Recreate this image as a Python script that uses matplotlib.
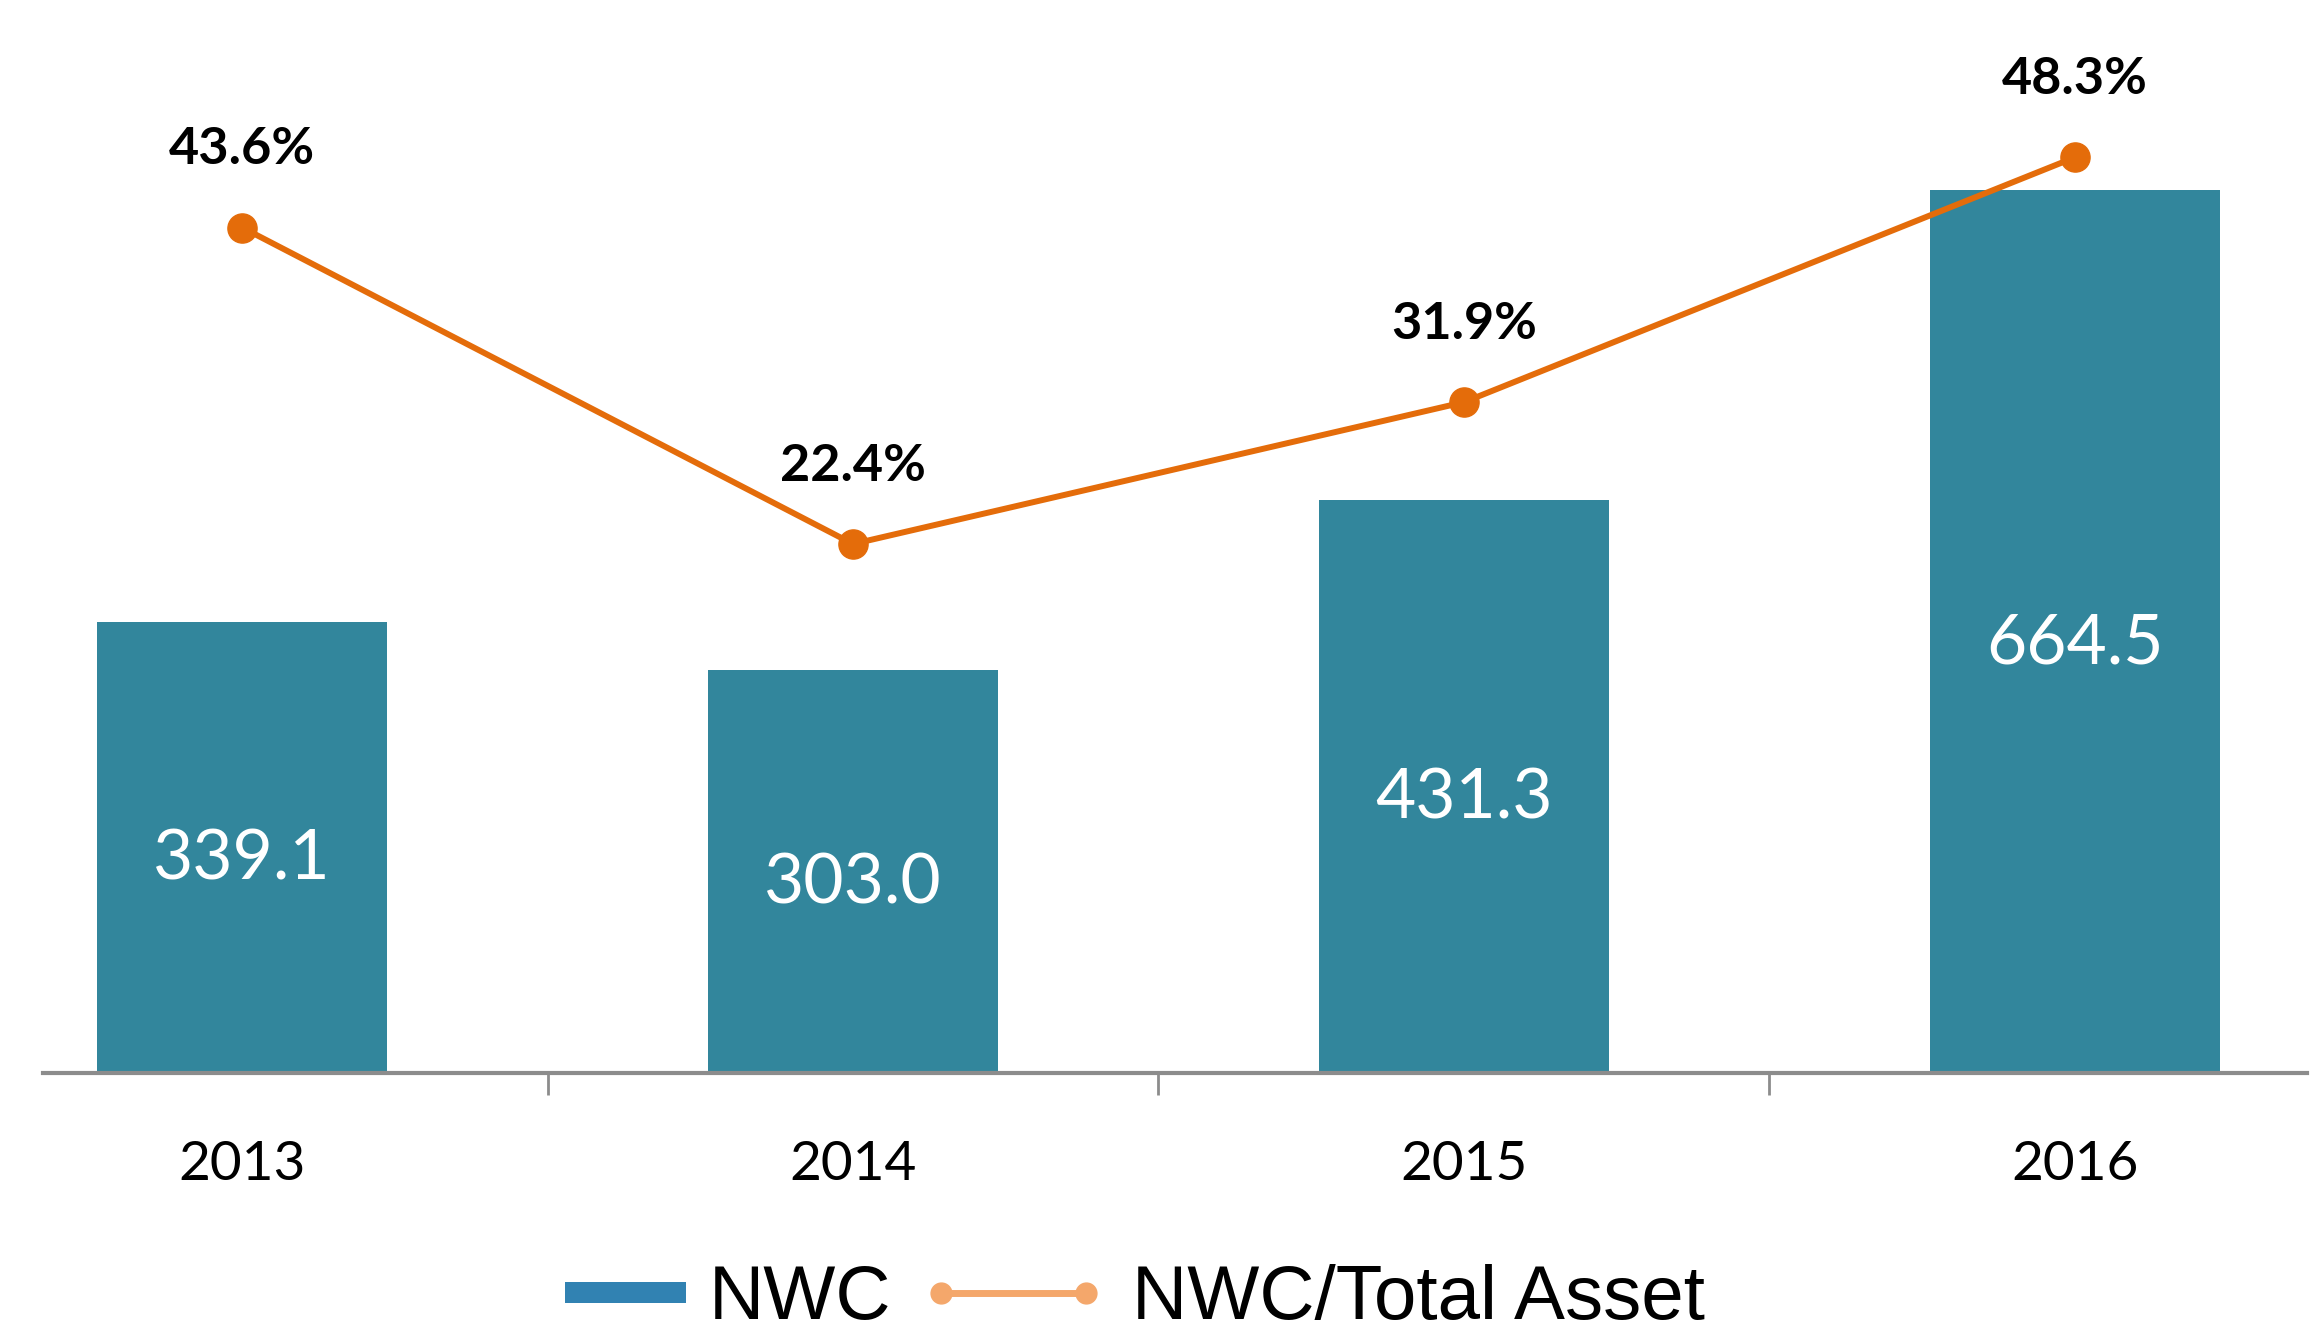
import numpy as np
import matplotlib.pyplot as plt
from matplotlib.patches import Patch, Rectangle
from matplotlib.lines import Line2D
from matplotlib.legend_handler import HandlerPatch

years = ["2013", "2014", "2015", "2016"]
nwc = [339.1, 303.0, 431.3, 664.5]
nwc_ratio = [43.6, 22.4, 31.9, 48.3]

barColor = "#32869C"
lineColor = "#E46C0A"
axisColor = "#8C8C8C"


def smallPatch(legend, orig_handle, xdescent, ydescent, width, height, fontsize):
    # legend box narrower and flatter than the line handle
    w, h = 87, 15
    return Rectangle((-xdescent + width - w, -ydescent + height / 2 - h / 2), w, h)


fig = plt.figure(figsize=(23.15, 13.4), dpi=100)
ax = fig.add_axes([0.0186, 0.1993, 0.9779, 0.7857])
x = np.arange(len(years))

ax.bar(x, nwc, width=0.475, color=barColor, zorder=2)
for xi, v in zip(x, nwc):
    ax.annotate("%.1f" % v, (xi, v / 2), xytext=(0, -9), textcoords="offset points",
                ha="center", va="center", color="white", fontsize=50, family="Lato")

ax.set_xlim(-0.326, 3.38)
ax.set_ylim(0, 792)
ax.set_yticks([])
for s in ["top", "right", "left"]:
    ax.spines[s].set_visible(False)
ax.spines["bottom"].set_color(axisColor)
ax.spines["bottom"].set_linewidth(3)
ax.set_xticks([0.5, 1.5, 2.5])
ax.set_xticklabels([])
ax.tick_params(axis="x", which="major", length=16, width=2, color=axisColor, direction="out")
ax.set_xticks(x, minor=True)
ax.set_xticklabels(years, minor=True, fontsize=39.5, family="Lato")
ax.tick_params(axis="x", which="minor", length=0, pad=48)

ax2 = ax.twinx()
ax2.set_ylim(-13.04, 57.5)
ax2.plot(x, nwc_ratio, color=lineColor, linewidth=4.3, marker="o", markersize=21, zorder=3)
for xi, v in zip(x, nwc_ratio):
    ax2.annotate("%.1f%%" % v, (xi, v), xytext=(0, 56), textcoords="offset points",
                 ha="center", va="center", fontsize=37.5, fontweight="bold", family="Lato")
ax2.axis("off")

handles = [Patch(facecolor="#3182B2", edgecolor="none"),
           Line2D([0], [0], color="#F4A76B", linewidth=5, marker="o", markersize=15)]
fig.legend(handles, ["NWC", "NWC/Total Asset"], loc="center", bbox_to_anchor=(0.475, 0.03),
           ncol=2, frameon=False, prop={"family": "Liberation Sans", "size": 55},
           handlelength=2.5, handleheight=0.7, columnspacing=0.35, handletextpad=0.3,
           numpoints=2, handler_map={Patch: HandlerPatch(patch_func=smallPatch)})

fig.savefig("out.png", dpi=100)
